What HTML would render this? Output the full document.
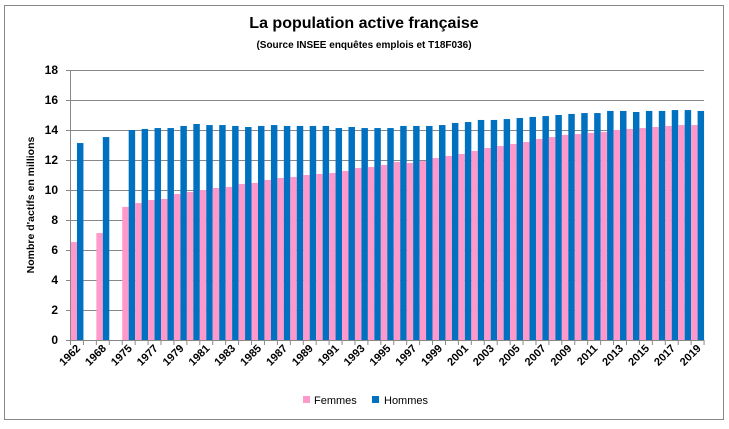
<!DOCTYPE html>
<html><head><meta charset="utf-8"><style>
body{margin:0;background:#fff;}
svg{display:block;font-family:"Liberation Sans",sans-serif;}
</style></head><body>
<svg id="c" width="729" height="429" viewBox="0 0 729 429" xmlns="http://www.w3.org/2000/svg">
<rect x="4.5" y="5.5" width="719" height="414" fill="#fff" stroke="#888" stroke-width="1"/>
<text x="364" y="28" text-anchor="middle" font-size="16" font-weight="bold" fill="#000">La population active française</text>
<text x="364" y="48" text-anchor="middle" font-size="10" font-weight="bold" fill="#000">(Source INSEE  enquêtes  emplois et T18F036)</text>
<g id="grid" stroke="#888" stroke-width="1"></g>
<g id="bars"></g>
<g id="axes" stroke="#888" stroke-width="1"></g>
<g font-size="12" font-weight="bold" text-anchor="end" fill="#000">
<text x="58" y="74">18</text><text x="58" y="104">16</text><text x="58" y="134">14</text>
<text x="58" y="164">12</text><text x="58" y="194">10</text><text x="58" y="224">8</text>
<text x="58" y="254">6</text><text x="58" y="284">4</text><text x="58" y="314">2</text>
<text x="58" y="344">0</text>
</g>
<text transform="translate(34,205) rotate(-90)" text-anchor="middle" font-size="10.5" font-weight="bold" fill="#000">Nombre d'actifs  en millions</text>
<g font-size="11" font-weight="bold" text-anchor="end" fill="#000">
<text transform="translate(81,349) rotate(-45)">1962</text>
<text transform="translate(106.8,349) rotate(-45)">1968</text>
<text transform="translate(132.7,349) rotate(-45)">1975</text>
<text transform="translate(158.6,349) rotate(-45)">1977</text>
<text transform="translate(184.4,349) rotate(-45)">1979</text>
<text transform="translate(210.3,349) rotate(-45)">1981</text>
<text transform="translate(236.1,349) rotate(-45)">1983</text>
<text transform="translate(262,349) rotate(-45)">1985</text>
<text transform="translate(287.9,349) rotate(-45)">1987</text>
<text transform="translate(313.7,349) rotate(-45)">1989</text>
<text transform="translate(339.6,349) rotate(-45)">1991</text>
<text transform="translate(365.4,349) rotate(-45)">1993</text>
<text transform="translate(391.3,349) rotate(-45)">1995</text>
<text transform="translate(417.2,349) rotate(-45)">1997</text>
<text transform="translate(443,349) rotate(-45)">1999</text>
<text transform="translate(468.9,349) rotate(-45)">2001</text>
<text transform="translate(494.7,349) rotate(-45)">2003</text>
<text transform="translate(520.6,349) rotate(-45)">2005</text>
<text transform="translate(546.5,349) rotate(-45)">2007</text>
<text transform="translate(572.3,349) rotate(-45)">2009</text>
<text transform="translate(598.2,349) rotate(-45)">2011</text>
<text transform="translate(624,349) rotate(-45)">2013</text>
<text transform="translate(649.9,349) rotate(-45)">2015</text>
<text transform="translate(675.8,349) rotate(-45)">2017</text>
<text transform="translate(701.6,349) rotate(-45)">2019</text>
</g>
<rect x="303" y="396" width="7" height="7" fill="#ff99cc"/>
<text x="314" y="404" font-size="11" fill="#000">Femmes</text>
<rect x="372" y="396" width="7" height="7" fill="#0070c0"/>
<text x="384" y="404" font-size="11" fill="#000">Hommes</text>
</svg>
<script>
(function(){
var NS="http://www.w3.org/2000/svg";
var x0=70.5,w=12.93,y0=340,k=15,right=704;
var F=[6.53,null,7.13,null,8.87,9.13,9.33,9.4,9.73,9.87,10.0,10.13,10.2,10.4,10.47,10.67,10.8,10.87,11.0,11.07,11.13,11.27,11.47,11.53,11.67,11.87,11.8,11.93,12.13,12.27,12.4,12.6,12.8,12.93,13.07,13.2,13.4,13.53,13.67,13.73,13.8,13.87,14.0,14.07,14.13,14.2,14.27,14.33,14.33];
var H=[13.13,null,13.53,null,14.0,14.07,14.13,14.13,14.27,14.4,14.33,14.33,14.27,14.2,14.27,14.33,14.27,14.27,14.27,14.27,14.13,14.2,14.13,14.13,14.13,14.27,14.27,14.27,14.33,14.47,14.53,14.67,14.67,14.73,14.8,14.87,14.93,15.0,15.07,15.13,15.13,15.27,15.27,15.2,15.27,15.27,15.33,15.33,15.27];
function el(n,a,p){var e=document.createElementNS(NS,n);for(var q in a)e.setAttribute(q,a[q]);p.appendChild(e);return e;}
var g=document.getElementById("grid"),b=document.getElementById("bars"),ax=document.getElementById("axes");
for(var v=0;v<=18;v+=2){var y=y0-v*k+0.5;el("line",{x1:66,x2:right,y1:y,y2:y},g);}
for(var i=0;i<F.length;i++){var x=x0+i*w;
 if(F[i]!=null)el("rect",{x:x,y:y0-F[i]*k,width:w/2,height:F[i]*k,fill:"#ff99cc"},b);
 if(H[i]!=null)el("rect",{x:x+w/2,y:y0-H[i]*k,width:w/2,height:H[i]*k,fill:"#0070c0"},b);}
el("line",{x1:x0,x2:x0,y1:70,y2:y0+4},ax);
el("line",{x1:x0,x2:right,y1:y0+0.5,y2:y0+0.5},ax);
for(var j=0;j<=49;j++){var xx=x0+j*w;el("line",{x1:xx,x2:xx,y1:y0,y2:y0+5},ax);}
})();
</script>
</body></html>
